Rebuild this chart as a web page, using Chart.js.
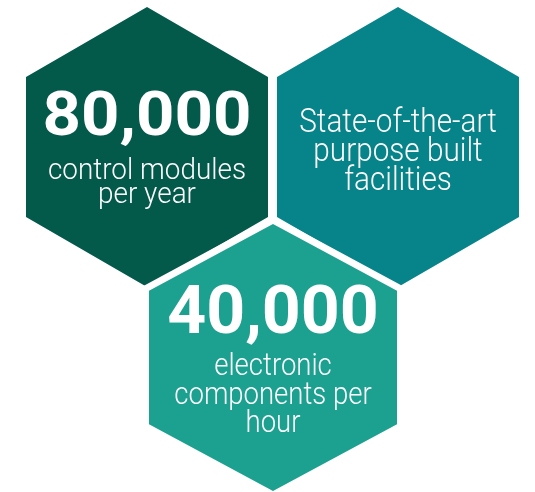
<!DOCTYPE html>
<html>
<head>
<meta charset="utf-8">
<script src="https://cdn.jsdelivr.net/npm/chart.js@4.4.1/dist/chart.umd.min.js"></script>
<style>
  html, body { margin: 0; padding: 0; background: #ffffff; }
  #hexChart { display: block; }
</style>
</head>
<body>
<canvas id="hexChart" width="535" height="492"></canvas>
<script>
// Data
const statValues = ['80,000', '', '40,000'];
const statCaptions = [
  ['control modules', 'per year'],
  ['State-of-the-art', 'purpose built', 'facilities'],
  ['electronic', 'components per', 'hour']
];
const hexColors = ['#03594a', '#07838a', '#1ca190'];

// Layout (axis units = pixels of the 535x492 picture)
const hexLayout = [
  { cx: 147, cy: 147, halfW: 121, halfH: 140 },
  { cx: 398, cy: 147, halfW: 121, halfH: 140 },
  { cx: 273, cy: 357.5, halfW: 124, halfH: 133.5 }
];
const gapWidth = 7;
const textLayout = [
  { numSize: 61, numScale: 1.1, numBase: -12, capSize: 30, capScale: 0.93, capBase: [32, 56] },
  { numSize: 62, numScale: 1, numBase: 0, capSize: 33, capScale: 0.9, capBase: [-15, 14, 43] },
  { numSize: 66, numScale: 1.03, numBase: -24.5, capSize: 32, capScale: 0.86, capBase: [17.5, 46.5, 74.5] }
];

function hexPoints(h, grow) {
  const w = h.halfW + grow;
  const t = h.halfH + grow / Math.cos(Math.PI / 6);
  return [
    { x: h.cx, y: h.cy - t },
    { x: h.cx + w, y: h.cy - t / 2 },
    { x: h.cx + w, y: h.cy + t / 2 },
    { x: h.cx, y: h.cy + t },
    { x: h.cx - w, y: h.cy + t / 2 },
    { x: h.cx - w, y: h.cy - t / 2 },
    { x: h.cx, y: h.cy - t }
  ];
}

function hexDataset(points, color) {
  return {
    data: points,
    showLine: true,
    fill: 'shape',
    backgroundColor: color,
    borderWidth: 0,
    pointRadius: 0,
    tension: 0,
    clip: false
  };
}

// first dataset is drawn on top
const datasets = [
  hexDataset(hexPoints(hexLayout[2], 0), hexColors[2]),
  hexDataset(hexPoints(hexLayout[2], gapWidth), '#ffffff'),
  hexDataset(hexPoints(hexLayout[1], 0), hexColors[1]),
  hexDataset(hexPoints(hexLayout[0], 0), hexColors[0])
];

function drawLine(ctx, text, x, y, font, scaleX) {
  ctx.save();
  ctx.font = font;
  ctx.translate(x, y);
  ctx.scale(scaleX, 1);
  ctx.fillText(text, 0, 0);
  ctx.restore();
}

const hexText = {
  id: 'hexText',
  afterDatasetsDraw(chart) {
    const ctx = chart.ctx;
    const xs = chart.scales.x;
    const ys = chart.scales.y;
    ctx.save();
    ctx.fillStyle = '#ffffff';
    ctx.textAlign = 'center';
    ctx.textBaseline = 'alphabetic';
    hexLayout.forEach((h, i) => {
      const t = textLayout[i];
      const x = xs.getPixelForValue(h.cx);
      if (statValues[i]) {
        drawLine(ctx, statValues[i], x, ys.getPixelForValue(h.cy + t.numBase),
          'bold ' + t.numSize + 'px Roboto, "Open Sans", sans-serif', t.numScale);
      }
      statCaptions[i].forEach((line, j) => {
        drawLine(ctx, line, x, ys.getPixelForValue(h.cy + t.capBase[j]),
          '300 ' + t.capSize + 'px Roboto, "Open Sans", sans-serif', t.capScale);
      });
    });
    ctx.restore();
  }
};

new Chart(document.getElementById('hexChart'), {
  type: 'scatter',
  data: { datasets: datasets },
  options: {
    responsive: false,
    animation: false,
    layout: { padding: 0 },
    plugins: {
      legend: { display: false },
      tooltip: { enabled: false }
    },
    scales: {
      x: { min: 0, max: 535, display: false },
      y: { min: 0, max: 492, reverse: true, display: false }
    }
  },
  plugins: [hexText]
});
</script>
</body>
</html>
